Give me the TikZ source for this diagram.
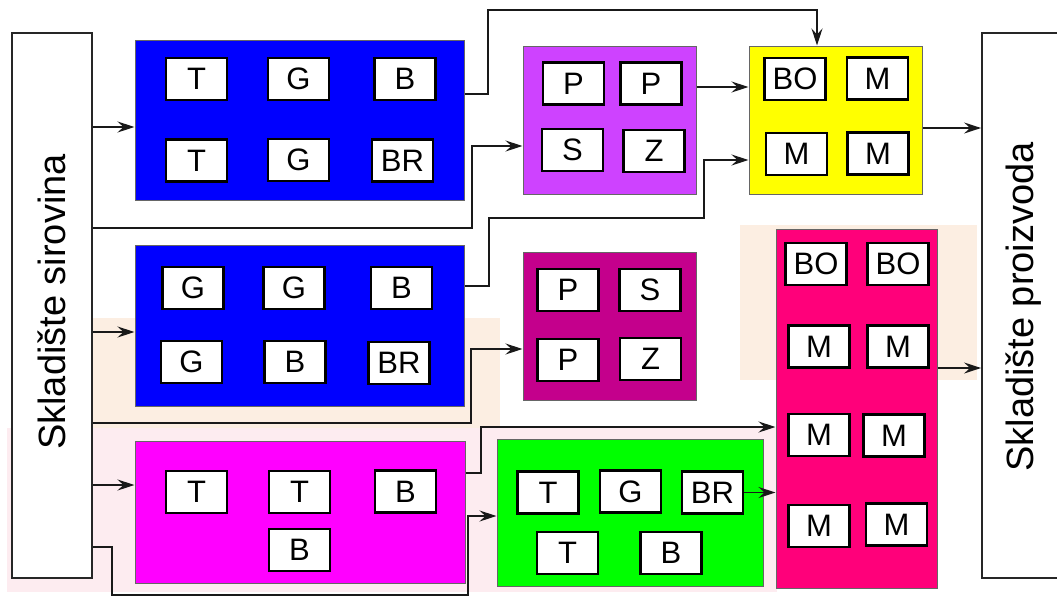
\documentclass[tikz,border=0pt]{standalone}
\usepackage{fontspec}
\setmainfont{Liberation Sans}
\usepackage{xcolor}
\usetikzlibrary{arrows.meta}

\definecolor{royal}{RGB}{0,0,255}
\definecolor{fuchsia}{RGB}{255,0,255}
\definecolor{lilac}{RGB}{206,66,255}
\definecolor{plum}{RGB}{196,0,140}
\definecolor{lemon}{RGB}{255,255,0}
\definecolor{crimson}{RGB}{255,0,122}
\definecolor{lime}{RGB}{0,255,0}
\definecolor{peach}{RGB}{252,238,226}
\definecolor{blush}{RGB}{253,236,240}

\begin{document}
\begin{tikzpicture}[
  x=1pt, y=-1pt,
  >=Stealth,
  cell/.style={
    draw=black, fill=white, line width=2.6pt, inner sep=0pt,
    minimum width=61pt, minimum height=42pt,
    font=\fontsize{31}{31}\selectfont
  },
  unit/.style={draw=black!60, line width=1pt, inner sep=0pt},
  store/.style={
    draw=black!85, fill=white, line width=1.8pt, inner sep=0pt,
    minimum width=80pt, minimum height=545pt
  },
  storelab/.style={rotate=90, font=\fontsize{38}{38}\selectfont},
  arr/.style={-{Stealth[length=17pt, width=11pt, inset=6pt]}, line width=1.8pt, draw=black!90}
]
  \useasboundingbox (0,0) rectangle (1057,598);

  % faint tint behind the lower part
  \fill[peach] (92,318) rectangle (500,428);
  \fill[peach] (740,225) rectangle (977,380);
  \fill[blush] (7,428) rectangle (777,592);

  % stores
  \node[store] (sirovina) at (52,305.5) {};
  \node[storelab] (sirovinaLab) at (52,302) {Skladište sirovina};
  \node[store] (proizvoda) at (1022,305.5) {};
  \node[storelab] (proizvodaLab) at (1024,307) {Skladište proizvoda};

  % machine groups
  \node[unit, fill=royal, minimum width=329pt, minimum height=160pt] (blueA) at (299.5,120) {};
  \node[unit, fill=royal, minimum width=329pt, minimum height=161pt] (blueB) at (299.5,326) {};
  \node[unit, fill=fuchsia, minimum width=330pt, minimum height=142pt] (magbox) at (300,512) {};
  \node[unit, fill=lilac, minimum width=173pt, minimum height=148pt] (purA) at (609.5,120) {};
  \node[unit, fill=plum, minimum width=173pt, minimum height=148pt] (purB) at (609.5,326) {};
  \node[unit, fill=lemon, minimum width=173pt, minimum height=148pt] (yellowbox) at (835.5,120) {};
  \node[unit, fill=crimson, minimum width=161pt, minimum height=359pt] (crimbox) at (856.5,408.5) {};
  \node[unit, fill=lime, minimum width=266pt, minimum height=147pt] (greenbox) at (630,512.5) {};

  % blue A
  \node[cell] (a1) at (196.5,79) {T};
  \node[cell] (a2) at (298.5,79) {G};
  \node[cell] (a3) at (405,79) {B};
  \node[cell] (a4) at (196.5,160.5) {T};
  \node[cell] (a5) at (298.5,160) {G};
  \node[cell] (a6) at (402.5,160.5) {BR};

  % blue B
  \node[cell] (b1) at (193,288) {G};
  \node[cell] (b2) at (294,288) {G};
  \node[cell] (b3) at (401.5,288) {B};
  \node[cell] (b4) at (191.5,362) {G};
  \node[cell] (b5) at (295,362) {B};
  \node[cell] (b6) at (399,363) {BR};

  % magenta
  \node[cell] (m1) at (196.5,492) {T};
  \node[cell] (m2) at (299.5,492) {T};
  \node[cell] (m3) at (405.5,491.5) {B};
  \node[cell] (m4) at (299.5,550) {B};

  % lilac
  \node[cell] (p1) at (573.5,83.5) {P};
  \node[cell] (p2) at (651,83.5) {P};
  \node[cell] (p3) at (572.5,150) {S};
  \node[cell] (p4) at (654,151) {Z};

  % plum
  \node[cell] (q1) at (568,290) {P};
  \node[cell] (q2) at (650,290) {S};
  \node[cell] (q3) at (568,360) {P};
  \node[cell] (q4) at (650.5,359) {Z};

  % yellow
  \node[cell] (y1) at (795,79) {BO};
  \node[cell] (y2) at (877.5,78.5) {M};
  \node[cell] (y3) at (796.5,154) {M};
  \node[cell] (y4) at (878,153.5) {M};

  % crimson
  \node[cell] (c1) at (816,264) {BO};
  \node[cell] (c2) at (898,264) {BO};
  \node[cell] (c3) at (819,346.5) {M};
  \node[cell] (c4) at (898,346.5) {M};
  \node[cell] (c5) at (819,435) {M};
  \node[cell] (c6) at (894,435.5) {M};
  \node[cell] (c7) at (819,526) {M};
  \node[cell] (c8) at (896.5,524.5) {M};

  % green
  \node[cell] (g1) at (548,492.5) {T};
  \node[cell] (g2) at (630.5,491.5) {G};
  \node[cell] (g3) at (712.5,492.5) {BR};
  \node[cell] (g4) at (567.5,553) {T};
  \node[cell] (g5) at (671,553) {B};

  % flows
  \draw[arr] (sirovina.east |- 0,127) -- (blueA.west |- 0,127);
  \draw[arr] (sirovina.east |- 0,332) -- (blueB.west |- 0,332);
  \draw[arr] (sirovina.east |- 0,485) -- (magbox.west |- 0,485);
  \draw[arr] (sirovina.east |- 0,228) -| (472,146) -- (purA.west |- 0,146);
  \draw[arr] (blueA.east |- 0,94) -| (488,10) -| (817,0 |- yellowbox.north);
  \draw[arr] (purA.east |- 0,87) -- (yellowbox.west |- 0,87);
  \draw[arr] (blueB.east |- 0,286) -| (489,218) -| (704,160) -- (yellowbox.west |- 0,160);
  \draw[arr] (yellowbox.east |- 0,128) -- (proizvoda.west |- 0,128);
  \draw[arr] (sirovina.east |- 0,423) -| (471,349) -- (purB.west |- 0,349);
  \draw[arr] (magbox.east |- 0,473) -| (481,427) -- (crimbox.west |- 0,427);
  \draw[arr] (sirovina.east |- 0,547) -| (112,595) -| (468,516) -- (greenbox.west |- 0,516);
  \draw[arr] (g3.east) -- (crimbox.west |- g3.east);
  \draw[arr] (crimbox.east |- 0,368) -- (proizvoda.west |- 0,368);
\end{tikzpicture}
\end{document}
